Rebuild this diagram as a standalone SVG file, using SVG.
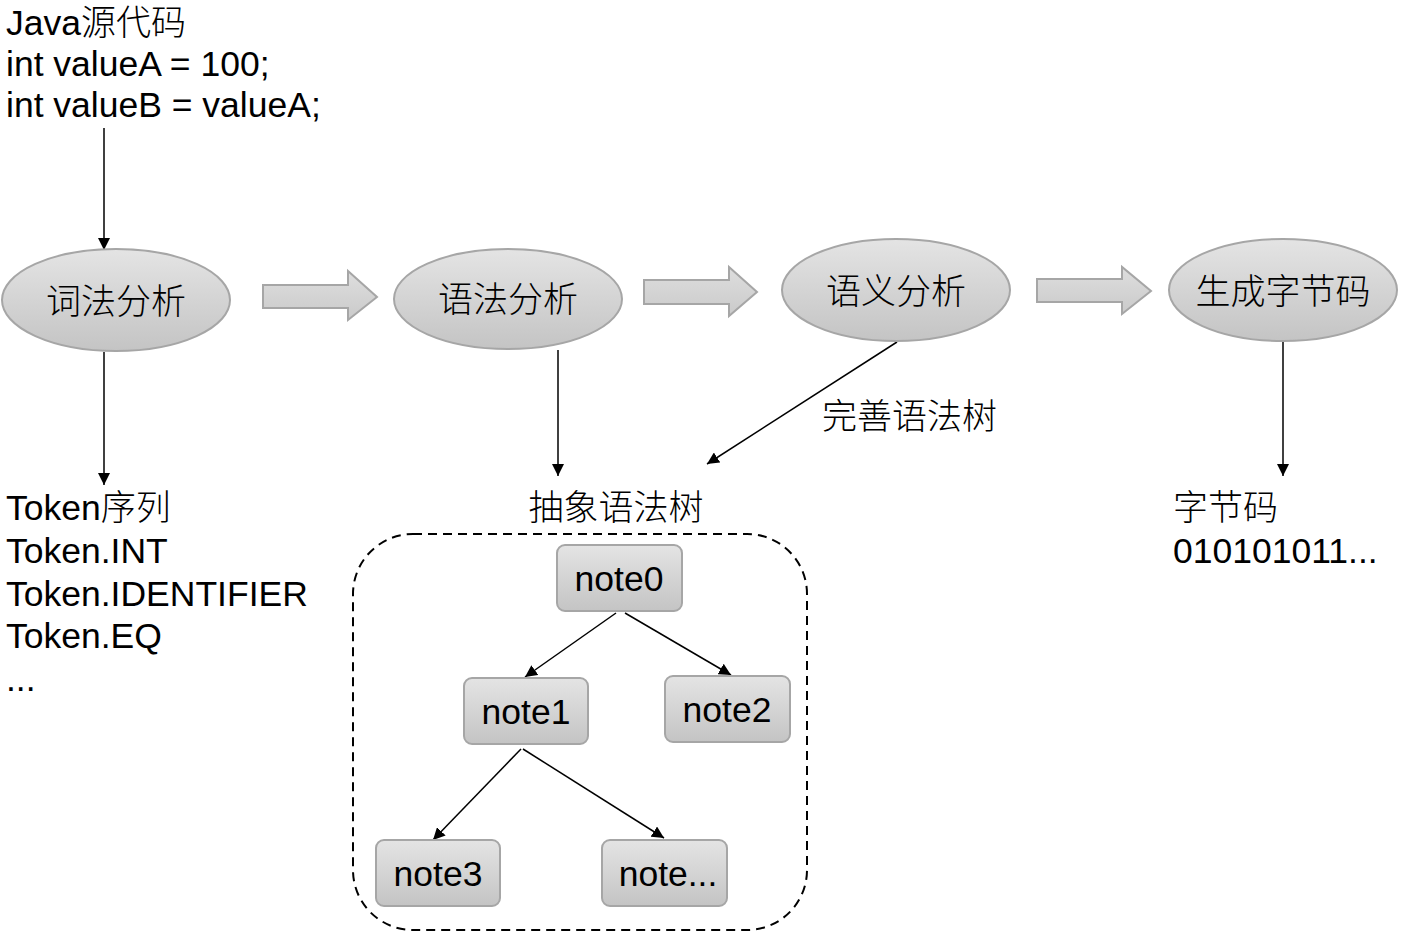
<svg xmlns="http://www.w3.org/2000/svg" width="1401" height="935" viewBox="0 0 1401 935">
<style>
.t{font-family:"Liberation Sans","Noto Sans CJK SC",sans-serif;font-size:35.5px;fill:#000}
.c{font-family:"Noto Sans CJK SC",sans-serif;font-size:35px;fill:#000;font-weight:300}
.e{fill:url(#g);stroke:#a6a6a6;stroke-width:2}
.b{fill:url(#g);stroke:#a6a6a6;stroke-width:2}
.ba{fill:url(#g2);stroke:#a6a6a6;stroke-width:2}
.l{stroke:#000;stroke-width:1.5;fill:none;marker-end:url(#ah)}
</style>
<defs>
<linearGradient id="g" x1="0" y1="0" x2="0" y2="1">
<stop offset="0" stop-color="#e4e4e4"/><stop offset="1" stop-color="#c4c4c4"/>
</linearGradient>
<linearGradient id="g2" x1="0" y1="0" x2="0" y2="1">
<stop offset="0" stop-color="#dedede"/><stop offset="1" stop-color="#cacaca"/>
</linearGradient>
<marker id="ah" viewBox="0 0 10 10" refX="10" refY="5" markerWidth="12" markerHeight="12" markerUnits="userSpaceOnUse" orient="auto">
<path d="M0,0 L10,5 L0,10 z" fill="#000"/>
</marker>
</defs>
<rect width="1401" height="935" fill="#fff"/>

<g id="source">
<text class="t" x="6" y="35">Java<tspan class="c">源代码</tspan></text>
<text class="t" x="6" y="76">int valueA = 100;</text>
<text class="t" x="6" y="117">int valueB = valueA;</text>
</g>

<g id="connectors">
<line class="l" x1="104" y1="128" x2="104" y2="250"/>
<line class="l" x1="104" y1="352" x2="104" y2="485"/>
<line class="l" x1="558" y1="350" x2="558" y2="476"/>
<line class="l" x1="897" y1="342" x2="707" y2="464"/>
<line class="l" x1="1283" y1="342" x2="1283" y2="476"/>
<line class="l" x1="616" y1="613" x2="525" y2="677"/>
<line class="l" x1="625" y1="613" x2="731" y2="675"/>
<line class="l" x1="521" y1="749" x2="433" y2="840"/>
<line class="l" x1="523" y1="749" x2="664" y2="838"/>
<path id="bigarrow1" class="ba" d="M263,285 H348 V271 L377,297 L348,320 V308 H263 Z"/>
<path id="bigarrow2" class="ba" d="M644,280 H729 V267 L757,292 L729,316 V304 H644 Z"/>
<path id="bigarrow3" class="ba" d="M1037,279 H1122 V267 L1151,291 L1122,314 V302 H1037 Z"/>
</g>

<g id="lex">
<ellipse class="e" cx="116" cy="300" rx="114" ry="51"/>
<text class="c" x="116" y="314" text-anchor="middle" font-size="36">词法分析</text>
</g>
<g id="syntax">
<ellipse class="e" cx="508" cy="299" rx="114" ry="50"/>
<text class="c" x="508" y="312" text-anchor="middle" font-size="36">语法分析</text>
</g>
<g id="semantic">
<ellipse class="e" cx="896" cy="290" rx="114" ry="51"/>
<text class="c" x="896" y="304" text-anchor="middle" font-size="36">语义分析</text>
</g>
<g id="codegen">
<ellipse class="e" cx="1283" cy="290" rx="114" ry="51"/>
<text class="c" x="1283" y="304" text-anchor="middle" font-size="36">生成字节码</text>
</g>

<g id="tokens">
<text class="t" x="6" y="520">Token<tspan class="c">序列</tspan></text>
<text class="t" x="6" y="563">Token.INT</text>
<text class="t" x="6" y="606">Token.IDENTIFIER</text>
<text class="t" x="6" y="648">Token.EQ</text>
<text class="t" x="6" y="691">...</text>
</g>

<g id="ast-label">
<text class="c" x="616" y="520" text-anchor="middle">抽象语法树</text>
</g>
<g id="refine-label">
<text class="c" x="822" y="429">完善语法树</text>
</g>
<g id="bytecode">
<text class="c" x="1173" y="520">字节码</text>
<text class="t" x="1173" y="563">010101011...</text>
</g>

<g id="ast-frame">
<rect x="353" y="534" width="454" height="396" rx="60" ry="60" fill="none" stroke="#000" stroke-width="2" stroke-dasharray="9,6"/>
</g>

<g id="note0">
<rect class="b" x="557" y="545" width="125" height="66" rx="8"/>
<text class="t" x="619" y="591" text-anchor="middle">note0</text>
</g>
<g id="note1">
<rect class="b" x="464" y="678" width="124" height="66" rx="8"/>
<text class="t" x="526" y="724" text-anchor="middle">note1</text>
</g>
<g id="note2">
<rect class="b" x="665" y="676" width="125" height="66" rx="8"/>
<text class="t" x="727" y="722" text-anchor="middle">note2</text>
</g>
<g id="note3">
<rect class="b" x="376" y="840" width="124" height="66" rx="8"/>
<text class="t" x="438" y="886" text-anchor="middle">note3</text>
</g>
<g id="note4">
<rect class="b" x="602" y="840" width="125" height="66" rx="8"/>
<text class="t" x="668" y="886" text-anchor="middle">note...</text>
</g>
</svg>
